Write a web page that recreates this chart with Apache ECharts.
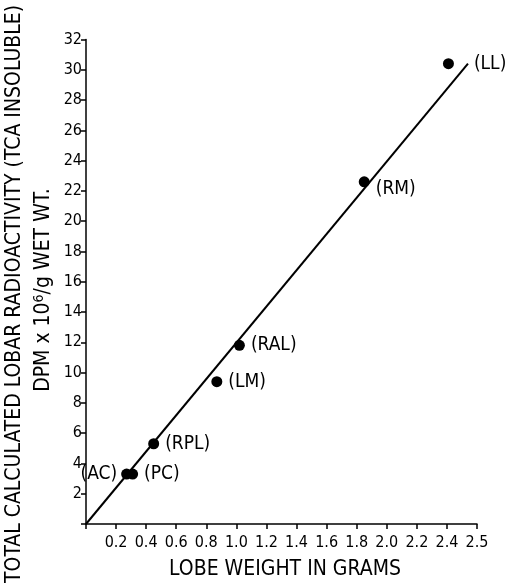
<!DOCTYPE html>
<html>
<head>
<meta charset="utf-8">
<script src="https://cdn.jsdelivr.net/npm/echarts@6/dist/echarts.min.js"></script>
<style>
  html, body { margin: 0; padding: 0; background: #fff; }
  #chart { width: 509px; height: 587px; }
</style>
</head>
<body>
<div id="chart"></div>
<script>
// lobes
const lobeNames = ['(AC)', '(PC)', '(RPL)', '(LM)', '(RAL)', '(RM)', '(LL)'];
const lobeWeight = [0.27, 0.31, 0.45, 0.87, 1.02, 1.85, 2.41];
const lobeActivity = [3.3, 3.3, 5.3, 9.4, 11.8, 22.6, 30.4];
// fitted line, ends
const fitX = [0, 2.54];
const fitY = [0, 30.4];
// x tick labels, one per 0.2 step (last tick is printed 2.5 in the original)
const xTickLabels = ['', '0.2', '0.4', '0.6', '0.8', '1.0', '1.2', '1.4', '1.6', '1.8', '2.0', '2.2', '2.4', '2.5'];

const FONT = '"DejaVu Sans Condensed", "Liberation Sans", sans-serif';

// label placement per point
const labelPos = {
  '(AC)': { position: 'left', distance: 4 },
  '(LL)': { position: 'right', distance: 20 },
  '(RM)': { position: 'right', distance: 6, offset: [0, 7] },
};

const myChart = echarts.init(document.getElementById('chart'));
const option = {
  backgroundColor: '#fff',
  animation: false,
  grid: { left: 86, right: 32, top: 39.5, bottom: 63 },
  xAxis: {
    type: 'value',
    min: 0,
    max: 2.6,
    interval: 0.2,
    splitLine: { show: false },
    axisLine: { lineStyle: { color: '#000', width: 1.5 } },
    axisTick: { length: 5, lineStyle: { color: '#000', width: 1.5 } },
    axisLabel: {
      color: '#000',
      fontFamily: FONT,
      fontSize: 16,
      margin: 11,
      formatter: v => xTickLabels[Math.round(v / 0.2)] || '',
    },
  },
  yAxis: {
    type: 'value',
    min: 0,
    max: 32,
    interval: 2,
    splitLine: { show: false },
    axisLine: { lineStyle: { color: '#000', width: 1.5 } },
    axisTick: { length: 5, lineStyle: { color: '#000', width: 1.5 } },
    axisLabel: {
      color: '#000',
      fontFamily: FONT,
      fontSize: 16,
      margin: 4,
      formatter: v => (v === 0 ? '' : String(v)),
    },
  },
  graphic: [
    {
      type: 'text',
      x: 15,
      y: 294,
      rotation: Math.PI / 2,
      style: {
        text: 'TOTAL CALCULATED LOBAR RADIOACTIVITY (TCA INSOLUBLE)',
        fill: '#000',
        font: '21px ' + FONT,
        align: 'center',
        verticalAlign: 'middle',
      },
    },
    {
      type: 'text',
      x: 44,
      y: 290,
      rotation: Math.PI / 2,
      style: {
        text: '{n|DPM x 10}{s|6}{n|/g WET WT.}',
        fill: '#000',
        align: 'center',
        verticalAlign: 'middle',
        rich: {
          n: { fontFamily: FONT, fontSize: 21, fill: '#000' },
          s: { fontFamily: FONT, fontSize: 14, fill: '#000', verticalAlign: 'top', padding: [0, 0, 10, 0] },
        },
      },
    },
    {
      type: 'text',
      x: 285,
      y: 570,
      style: {
        text: 'LOBE WEIGHT IN GRAMS',
        fill: '#000',
        font: '21px ' + FONT,
        align: 'center',
        verticalAlign: 'middle',
      },
    },
  ],
  series: [
    {
      name: 'fit',
      type: 'line',
      data: fitX.map((x, i) => [x, fitY[i]]),
      symbol: 'none',
      lineStyle: { color: '#000', width: 2 },
      silent: true,
    },
    {
      name: 'lobes',
      type: 'scatter',
      symbolSize: 11,
      itemStyle: { color: '#000', opacity: 1 },
      data: lobeNames.map((n, i) => {
        const p = labelPos[n] || { position: 'right', distance: 6 };
        return {
          value: [lobeWeight[i], lobeActivity[i]],
          name: n,
          label: {
            show: true,
            formatter: n,
            position: p.position,
            distance: p.distance,
            offset: p.offset || [0, 0],
            color: '#000',
            fontFamily: FONT,
            fontSize: 19,
          },
        };
      }),
    },
  ],
};
myChart.setOption(option);
window.addEventListener('resize', () => myChart.resize());
</script>
</body>
</html>
